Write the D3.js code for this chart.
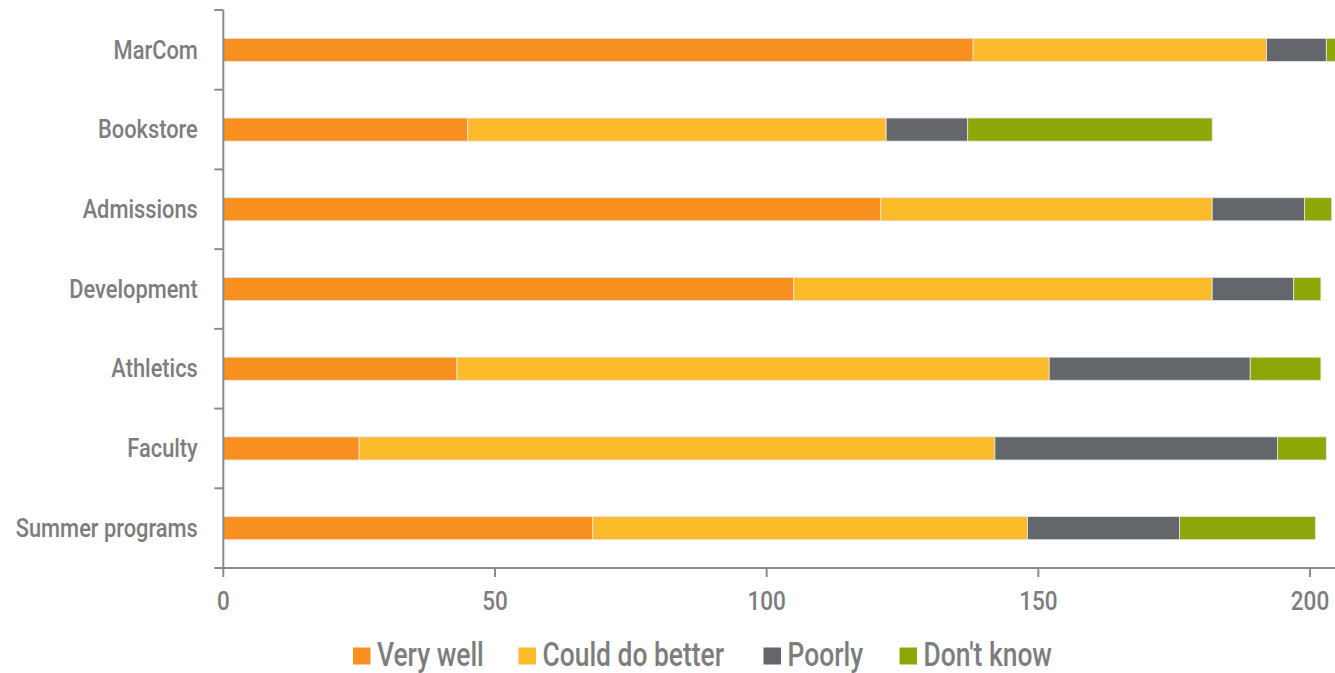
<!DOCTYPE html>
<html><head><meta charset="utf-8">
<script src="https://cdn.jsdelivr.net/npm/d3@7"></script>
<style>body{margin:0;background:#fff}svg{display:block}text{font-family:Roboto,sans-serif;fill:#7d7d7d}</style>
</head><body><svg id="c" width="1335" height="673"></svg>
<script>
const categories = ["MarCom","Bookstore","Admissions","Development","Athletics","Faculty","Summer programs"];
const seriesNames = ["Very well","Could do better","Poorly","Don't know"];
const veryWell = [138,45,121,105,43,25,68];
const couldDoBetter = [54,77,61,77,109,117,80];
const poorly = [11,15,17,15,37,52,28];
const dontKnow = [3,45,5,5,13,9,25];
const xTicks = [0,50,100,150,200];
const colors = ["#F7901E","#FBBB2A","#63666A","#8DA708"];

const rows = categories.map((c,i)=>({cat:c,"Very well":veryWell[i],"Could do better":couldDoBetter[i],"Poorly":poorly[i],"Don't know":dontKnow[i]}));
const stack = d3.stack().keys(seriesNames)(rows);

const svg = d3.select("#c");
const x = d3.scaleLinear().domain([0,204.6]).range([223.3,1335]);
const y = d3.scaleBand().domain(categories).range([10,568]).paddingInner(0.71).paddingOuter(0.355);

const g = svg.append("g");
stack.forEach((s,k)=>{
  g.selectAll(null).data(s).enter().append("rect")
   .attr("x",d=>x(d[0])).attr("width",d=>x(d[1])-x(d[0]))
   .attr("y",d=>y(d.data.cat)).attr("height",y.bandwidth())
   .attr("fill",colors[k]).attr("stroke","#e6e6e6").attr("stroke-width",0.8);
});

// y axis
const yb = d3.scaleBand().domain(categories).range([10,568]);
const ya = svg.append("g").attr("transform","translate(223.3,0)");
ya.append("line").attr("y1",10).attr("y2",568).attr("stroke","#8c8c8c").attr("stroke-width",2);
const yTickPos = categories.map(c=>yb(c)).concat([568]);
ya.selectAll(null).data(yTickPos).enter().append("line")
  .attr("x1",-9).attr("x2",0).attr("y1",d=>d).attr("y2",d=>d).attr("stroke","#8c8c8c").attr("stroke-width",2);
ya.selectAll(null).data(categories).enter().append("text")
  .attr("transform",d=>`translate(-25.5,${yb(d)+yb.bandwidth()/2+8.7}) scale(0.84,1)`)
  .attr("text-anchor","end").style("font-size","26px").style("font-weight","500").text(d=>d);

// x axis
const xa = svg.append("g").attr("transform","translate(0,568)");
xa.append("line").attr("x1",223.3).attr("x2",1335).attr("stroke","#8c8c8c").attr("stroke-width",2);
xa.selectAll(null).data(xTicks).enter().append("line")
  .attr("x1",d=>x(d)).attr("x2",d=>x(d)).attr("y1",0).attr("y2",9).attr("stroke","#8c8c8c").attr("stroke-width",2);
xa.selectAll(null).data(xTicks).enter().append("text")
  .attr("transform",d=>`translate(${x(d)},41.5) scale(0.9,1)`)
  .attr("text-anchor","middle").style("font-size","25px").style("font-weight","500").text(d=>d);

// legend
const legX = [353,518.5,763.5,899.5];
const lg = svg.append("g");
seriesNames.forEach((n,i)=>{
  lg.append("rect").attr("x",legX[i]).attr("y",647.5).attr("width",17.5).attr("height",17).attr("fill",colors[i]);
  lg.append("text").attr("transform",`translate(${legX[i]+24},665.5) scale(0.8,1)`)
    .style("font-size","33px").style("font-weight","500").text(n);
});
</script></body></html>
